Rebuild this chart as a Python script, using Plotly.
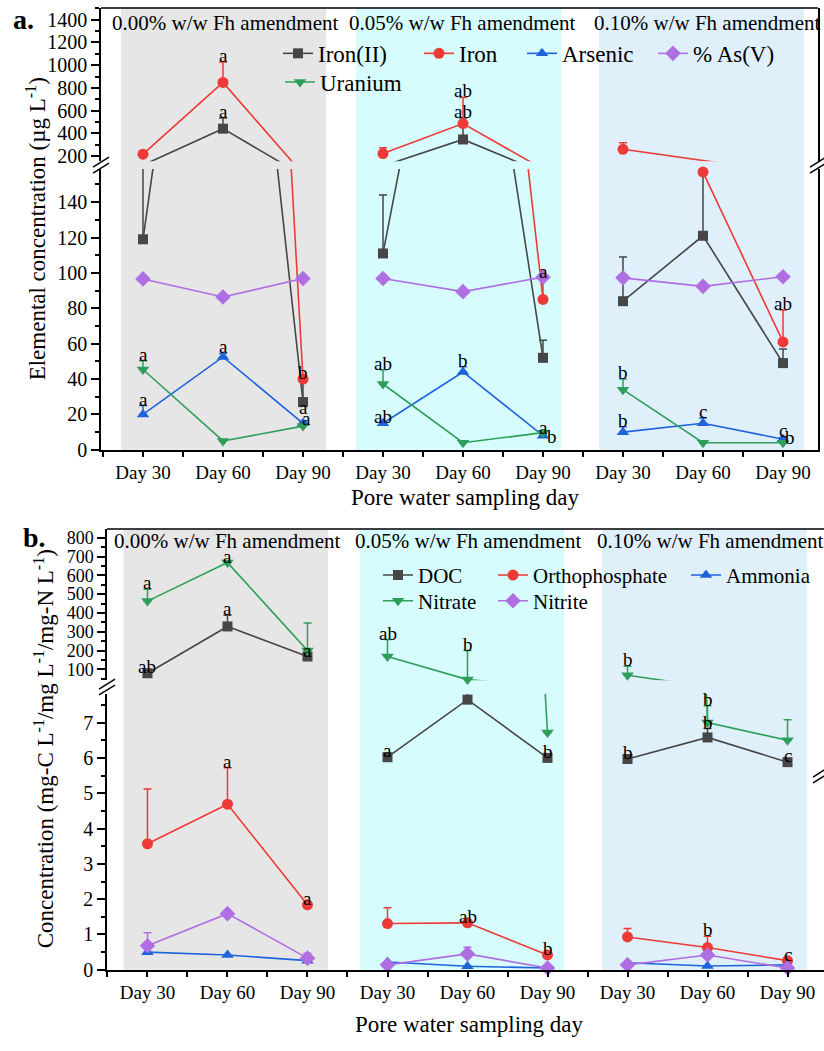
import plotly.graph_objects as go

W, H = 824, 1051
SERIF = "Liberation Serif, Times New Roman, serif"

# ---------------- data ----------------
days = ["Day 30", "Day 60", "Day 90"]
tick_text = days * 3
amendments = ["0.00% w/w Fh amendment", "0.05% w/w Fh amendment", "0.10% w/w Fh amendment"]

# Panel a (µg/L ; % As(V))
iron2 = [119, 440, 27, 111, 345, 52, 84, 121, 49]
iron2_err = [45, 95, 13, 33, 190, 10, 25, 40, 8]
iron2_lab = ["", "a", "a", "", "ab", "", "", "b", ""]

iron = [215, 848, 40, 221, 485, 85, 258, 157, 61]
iron_err = [28, 180, None, 50, 230, 12, 58, 10, 18]
iron_lab = ["", "a", "b", "", "ab", "a", "", "b", "ab"]

arsenic = [20, 52.5, 15, 15, 44, 8, 10, 15, 6]
arsenic_err = [5, 2, 1, None, 3, 1, 3, 3, 1]
arsenic_lab = ["a", "a", "a", "ab", "b", "a", "b", "c", "c"]

as_v = [96.6, 86.4, 96.8, 96.8, 89.4, 97.6, 97.2, 92.4, 97.8]
as_v_err = [None] * 9
as_v_lab = [""] * 9

uranium = [45.4, 5, 13.4, 37.2, 4, 9.7, 34, 4, 4]
uranium_err = [5, None, None, 8, None, None, 6, None, None]
uranium_lab = ["a", "", "", "ab", "", "b", "b", "", "b"]

# Panel b (mg/L)
doc = [79, 328, 168, 6.02, 7.65, 6.0, 5.97, 6.58, 5.88]
doc_err = [None, 60, None, None, 0.25, None, None, 0.25, None]
doc_lab = ["ab", "a", "a", "a", "a", "b", "b", "b", "c"]

ortho = [3.57, 4.69, 1.84, 1.31, 1.33, 0.42, 0.93, 0.63, 0.26]
ortho_err = [1.55, 1.03, None, 0.45, None, None, 0.24, 0.32, None]
ortho_lab = ["", "a", "a", "", "ab", "b", "", "b", "c"]

ammonia = [0.5, 0.42, 0.26, 0.22, 0.1, 0.05, 0.2, 0.11, 0.14]
ammonia_err = [None] * 9
ammonia_lab = [""] * 9

nitrate = [463, 668, 200, 168, 45, 6.72, 68, 7.0, 6.5]
nitrate_err = [63, None, 147, 90, 155, None, 48, 0.48, 0.58]
nitrate_lab = ["a", "a", "", "ab", "b", "", "b", "b", ""]

nitrite = [0.68, 1.59, 0.33, 0.14, 0.45, 0.05, 0.14, 0.42, 0.05]
nitrite_err = [0.37, None, 0.14, None, 0.19, None, None, None, None]
nitrite_lab = [""] * 9

# ---------------- style ----------------
C = dict(black="#464646", red="#EE3A36", blue="#1F63DB", purple="#B06EE3", green="#2E9F5B")

series_a = [
    dict(key="iron2", name="Iron(II)", y=iron2, err=iron2_err, lab=iron2_lab, color=C["black"], symbol="square", size=10),
    dict(key="iron", name="Iron", y=iron, err=iron_err, lab=iron_lab, color=C["red"], symbol="circle", size=11),
    dict(key="arsenic", name="Arsenic", y=arsenic, err=arsenic_err, lab=arsenic_lab, color=C["blue"], symbol="triangle-up", size=11),
    dict(key="asv", name="% As(V)", y=as_v, err=as_v_err, lab=as_v_lab, color=C["purple"], symbol="diamond", size=12),
    dict(key="uranium", name="Uranium", y=uranium, err=uranium_err, lab=uranium_lab, color=C["green"], symbol="triangle-down", size=11),
]
series_b = [
    dict(key="doc", name="DOC", y=doc, err=doc_err, lab=doc_lab, color=C["black"], symbol="square", size=10),
    dict(key="ortho", name="Orthophosphate", y=ortho, err=ortho_err, lab=ortho_lab, color=C["red"], symbol="circle", size=11),
    dict(key="ammonia", name="Ammonia", y=ammonia, err=ammonia_err, lab=ammonia_lab, color=C["blue"], symbol="triangle-up", size=11),
    dict(key="nitrate", name="Nitrate", y=nitrate, err=nitrate_err, lab=nitrate_lab, color=C["green"], symbol="triangle-down", size=11),
    dict(key="nitrite", name="Nitrite", y=nitrite, err=nitrite_err, lab=nitrite_lab, color=C["purple"], symbol="diamond", size=12),
]

# legend placement: (text left px, centre y px)
legend_pos_a = [(318, 53), (459, 53), (562, 53), (693, 53), (320, 82)]
legend_pos_b = [(418, 581), (533, 581), (726, 581), (418, 607), (533, 607)]

LETTER_SHIFT = -6
label_nudge = {("iron2", 2): (0, -35), ("iron2", 7): (0, -9), ("uranium", 5): (9, -10),
               ("uranium", 8): (7, -1), ("arsenic", 2): (3, -3)}

PANELS = {
    "a": dict(xaxis="x", ylow="y", yup="y2", xdom=(101, 818), low=(170, 454), up=(7, 162),
              xr=[-0.525, 8.4375], lr=[0, 158.7], ur=[153.8, 1504.6], ldt=20, lmdt=10,
              udt=200, umdt=100, ufont=20, mirror=True, series=series_a, legpos=legend_pos_a,
              legfont=23, leg0=1, letter="a.", letter_xy=(11, 19),
              head_x=(110, 347, 592), head_y=22,
              bands=[(-0.275, 2.29), (2.66, 5.23), (5.7, 8.26)],
              ytitle="Elemental concentration (µg L<sup>-1</sup>)", ytitle_xy=(36, 231),
              xtitle_xy=(465, 502), breaks=[(101, 166), (818, 166)]),
    "b": dict(xaxis="x2", ylow="y3", yup="y4", xdom=(107, 824), low=(701, 980), up=(534, 687),
              xr=[-0.506, 8.456], lr=[0, 7.81], ur=[42.1, 847.4], ldt=1, lmdt=0.5,
              udt=100, umdt=50, ufont=18, mirror=False, series=series_b, legpos=legend_pos_b,
              legfont=21, leg0=6, letter="b.", letter_xy=(21, 543),
              head_x=(112, 353, 595), head_y=546,
              bands=[(-0.3, 2.256), (2.656, 5.206), (5.68, 8.24)],
              ytitle="Concentration (mg-C L<sup>-1</sup>/mg L<sup>-1</sup>/mg-N L<sup>-1</sup>)",
              ytitle_xy=(44, 757), xtitle_xy=(469, 1035), breaks=[(107, 694), (821, 783)]),
}
band_colors = ["#E6E6E6", "#D6FCFD", "#DFF0FB"]


def px(xp):
    return xp / W


def py(yp):
    return 1 - yp / H


def gapped(vals):
    out = []
    for g in range(3):
        out += list(vals[3 * g:3 * g + 3]) + [None]
    return out[:-1]


xpos = list(range(9))
fig = go.Figure()
annotations, shapes = [], []
layout = {}

for pk, p in PANELS.items():
    lo_max = p["lr"][1]
    xa = "xaxis" + p["xaxis"][1:]
    yl = "yaxis" + p["ylow"][1:]
    yu = "yaxis" + p["yup"][1:]
    axis_common = dict(showgrid=False, zeroline=False, showline=True, linecolor="black", linewidth=1.5,
                       ticks="outside", tickcolor="black", tickwidth=1.5)
    layout[xa] = dict(axis_common, domain=[px(p["xdom"][0]), px(p["xdom"][1])], range=p["xr"],
                      anchor=p["ylow"], tickmode="array", tickvals=xpos, ticktext=tick_text, ticklen=5,
                      tickfont=dict(family=SERIF, size=19, color="black"),
                      minor=dict(tickvals=[i - 0.5 for i in range(10)], ticklen=5, ticks="outside",
                                 tickcolor="black", tickwidth=1.5))
    layout[yl] = dict(axis_common, domain=[py(p["low"][1]), py(p["low"][0])], range=p["lr"],
                      anchor=p["xaxis"], tickmode="linear", tick0=0, dtick=p["ldt"], ticklen=8,
                      mirror=p["mirror"], tickfont=dict(family=SERIF, size=20, color="black"),
                      minor=dict(dtick=p["lmdt"], tick0=0, ticklen=4, ticks="outside",
                                 tickcolor="black", tickwidth=1.5))
    layout[yu] = dict(axis_common, domain=[py(p["up"][1]), py(p["up"][0])], range=p["ur"],
                      anchor=p["xaxis"], tickmode="linear", tick0=0, dtick=p["udt"], ticklen=8,
                      mirror=p["mirror"], tickfont=dict(family=SERIF, size=p["ufont"], color="black"),
                      minor=dict(dtick=p["umdt"], tick0=0, ticklen=4, ticks="outside",
                                 tickcolor="black", tickwidth=1.5))

    # shaded amendment bands
    for (b0, b1), col in zip(p["bands"], band_colors):
        shapes.append(dict(type="rect", xref=p["xaxis"], yref="paper", x0=b0, x1=b1,
                           y0=py(p["low"][1]), y1=py(p["up"][0]), fillcolor=col, line=dict(width=0),
                           layer="below"))
    # top frame line
    shapes.append(dict(type="line", xref="paper", yref="paper", x0=px(p["xdom"][0]), x1=px(p["xdom"][1]),
                       y0=py(p["up"][0]), y1=py(p["up"][0]), line=dict(color="black", width=1.5)))
    # axis-break marks
    for bx, by in p["breaks"]:
        for off in (-3, 3):
            shapes.append(dict(type="line", xref="paper", yref="paper", x0=px(bx - 8), x1=px(bx + 8),
                               y0=py(by + off + 5), y1=py(by + off - 5), line=dict(color="black", width=1.5)))

    # data
    for s in p["series"]:
        for axis in ("ylow", "yup"):
            yid = p[axis]
            fig.add_trace(go.Scatter(x=gapped(xpos), y=gapped(s["y"]), mode="lines",
                                     line=dict(color=s["color"], width=1.6), xaxis=p["xaxis"], yaxis=yid,
                                     showlegend=False, hoverinfo="skip"))
            inside = [(v <= lo_max) if axis == "ylow" else (v > lo_max) for v in s["y"]]
            ym = [v if k else None for v, k in zip(s["y"], inside)]
            em = [e if k else None for e, k in zip(s["err"], inside)]
            fig.add_trace(go.Scatter(x=xpos, y=ym, mode="markers",
                                     marker=dict(symbol=s["symbol"], size=s["size"], color=s["color"]),
                                     error_y=dict(type="data", array=em, arrayminus=[0] * 9, symmetric=False,
                                                  color=s["color"], thickness=1.5, width=4),
                                     cliponaxis=False, xaxis=p["xaxis"], yaxis=yid, showlegend=False))
        # letters
        for i, t in enumerate(s["lab"]):
            if not t:
                continue
            v = s["y"][i]
            top = v + (s["err"][i] or 0)
            yid = p["ylow"] if v <= lo_max else p["yup"]
            dx, dy = label_nudge.get((s["key"], i), (0, 0)) if pk == "a" else (0, 0)
            annotations.append(dict(x=i, y=top, xref=p["xaxis"], yref=yid, text=t, showarrow=False,
                                    yanchor="bottom", xanchor="center", xshift=dx,
                                    yshift=dy + LETTER_SHIFT,
                                    font=dict(family=SERIF, size=19, color="black")))

    # legend entries, one legend per item
    for j, (s, (tx, ty)) in enumerate(zip(p["series"], p["legpos"])):
        n = p["leg0"] + j
        lname = "legend" if n == 1 else f"legend{n}"
        fig.add_trace(go.Scatter(x=[None], y=[None], mode="lines+markers", name=s["name"],
                                 line=dict(color=s["color"], width=1.6),
                                 marker=dict(symbol=s["symbol"], size=s["size"], color=s["color"]),
                                 xaxis=p["xaxis"], yaxis=p["ylow"], legend=lname, showlegend=True))
        layout[lname] = dict(x=px(tx - 40), y=py(ty), xanchor="left", yanchor="middle",
                             bgcolor="rgba(0,0,0,0)", borderwidth=0, itemwidth=30,
                             font=dict(family=SERIF, size=p["legfont"], color="black"))

    # texts
    for hx, ht in zip(p["head_x"], amendments):
        annotations.append(dict(x=px(hx), y=py(p["head_y"]), xref="paper", yref="paper", text=ht,
                                showarrow=False, xanchor="left", yanchor="middle",
                                font=dict(family=SERIF, size=21, color="black")))
    annotations.append(dict(x=px(p["letter_xy"][0]), y=py(p["letter_xy"][1]), xref="paper", yref="paper",
                            text="<b>" + p["letter"] + "</b>", showarrow=False, xanchor="left",
                            yanchor="middle", font=dict(family=SERIF, size=28, color="black")))
    annotations.append(dict(x=px(p["ytitle_xy"][0]), y=py(p["ytitle_xy"][1]), xref="paper", yref="paper",
                            text=p["ytitle"], textangle=-90, showarrow=False, xanchor="center",
                            yanchor="middle", font=dict(family=SERIF, size=23, color="black")))
    annotations.append(dict(x=px(p["xtitle_xy"][0]), y=py(p["xtitle_xy"][1]), xref="paper", yref="paper",
                            text="Pore water sampling day", showarrow=False, xanchor="center",
                            yanchor="middle", font=dict(family=SERIF, size=23, color="black")))

fig.update_layout(width=W, height=H, margin=dict(l=0, r=0, t=0, b=0), paper_bgcolor="white",
                  plot_bgcolor="rgba(0,0,0,0)", shapes=shapes, annotations=annotations,
                  font=dict(family=SERIF, color="black"),
                  showlegend=True, **layout)
fig.write_html("out.html")
